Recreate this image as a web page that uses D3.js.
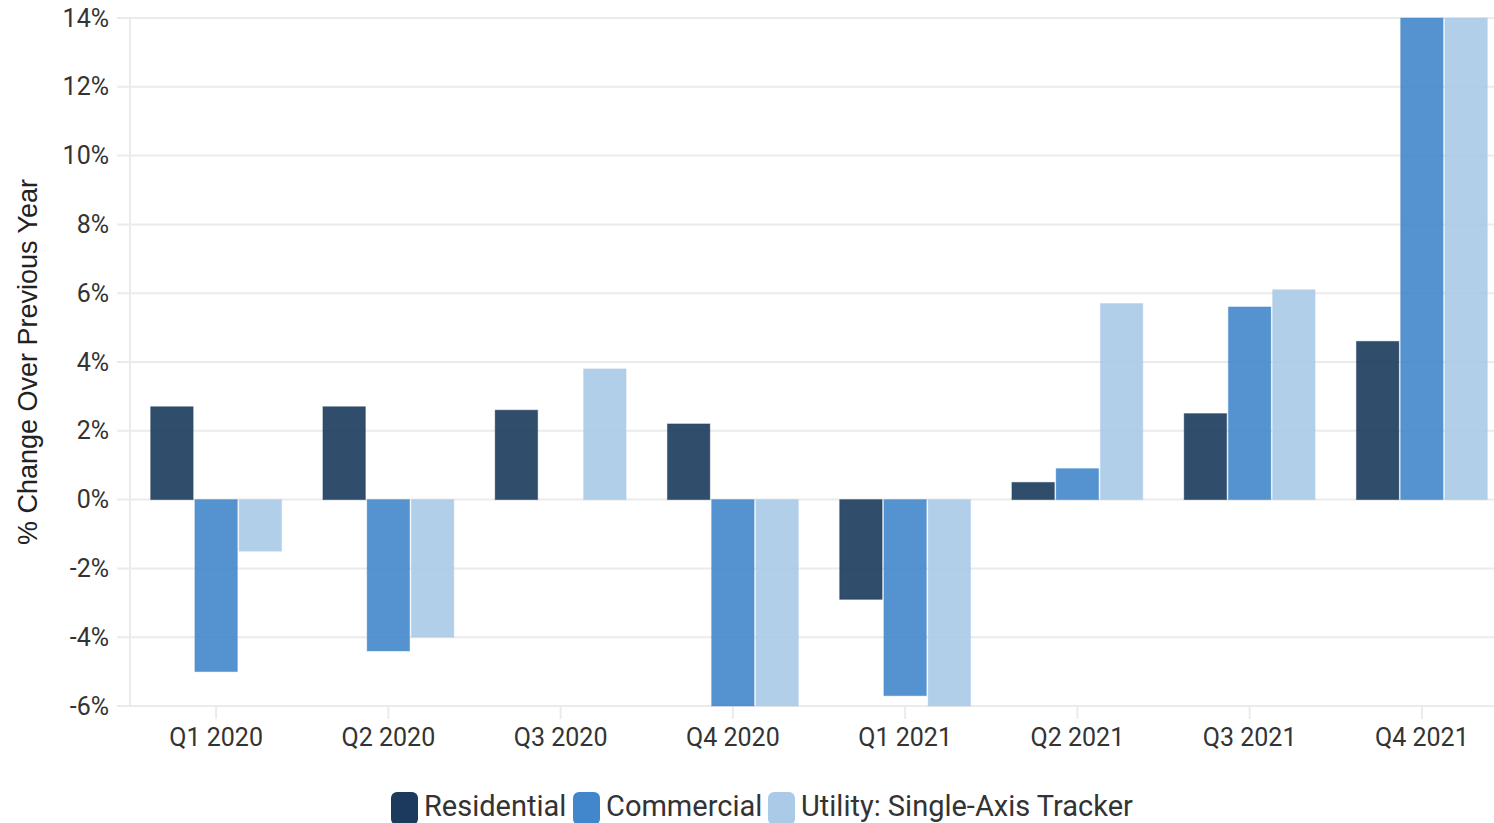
<!DOCTYPE html>
<html>
<head>
<meta charset="utf-8">
<script src="https://cdn.jsdelivr.net/npm/d3@7"></script>
<style>
  html, body { margin: 0; padding: 0; background: #fff; }
  svg { display: block; }
</style>
</head>
<body>
<svg id="chart" width="1494" height="823"></svg>
<script>
const categories = ["Q1 2020", "Q2 2020", "Q3 2020", "Q4 2020", "Q1 2021", "Q2 2021", "Q3 2021", "Q4 2021"];
const seriesNames = ["Residential", "Commercial", "Utility: Single-Axis Tracker"];
const residential = [2.7, 2.7, 2.6, 2.2, -2.9, 0.5, 2.5, 4.6];
const commercial = [-5.0, -4.4, 0, -6.0, -5.7, 0.9, 5.6, 14.0];
const utility = [-1.5, -4.0, 3.8, -6.0, -6.0, 5.7, 6.1, 14.0];
const yTicks = [-6, -4, -2, 0, 2, 4, 6, 8, 10, 12, 14];
const colors = ["#1b3a5c", "#4287cb", "#aacae8"];

const seriesValues = [residential, commercial, utility];

const svg = d3.select("#chart");
const plot = { left: 130, right: 1508, top: 18, bottom: 706 };

const x0 = d3.scaleBand().domain(categories).range([plot.left, plot.right]).paddingInner(0.24).paddingOuter(0.12);
const x1 = d3.scaleBand().domain(seriesNames).range([0, x0.bandwidth()]).padding(0.04).paddingOuter(0);
const y = d3.scaleLinear().domain([-6, 14]).range([plot.bottom, plot.top]);

// clip
svg.append("defs").append("clipPath").attr("id", "plotclip")
  .append("rect").attr("x", plot.left).attr("y", plot.top - 1).attr("width", plot.right - plot.left).attr("height", plot.bottom - plot.top + 2);

// gridlines
svg.append("g").selectAll("line").data(yTicks).join("line")
  .attr("x1", 117).attr("x2", 1494)
  .attr("y1", d => y(d)).attr("y2", d => y(d))
  .attr("stroke", "#ebebeb").attr("stroke-width", 2);

// y axis line
svg.append("line").attr("x1", plot.left).attr("x2", plot.left)
  .attr("y1", plot.top).attr("y2", plot.bottom + 1)
  .attr("stroke", "#ebebeb").attr("stroke-width", 2);

// y tick labels
svg.append("g").selectAll("text").data(yTicks).join("text")
  .attr("x", 109).attr("y", d => y(d))
  .attr("text-anchor", "end").attr("dominant-baseline", "central")
  .attr("font-family", "Roboto, sans-serif").attr("font-size", 25)
  .attr("fill", "#333")
  .text(d => d + "%");

// x ticks
const xt = svg.append("g");
xt.selectAll("line").data(categories).join("line")
  .attr("x1", d => x0(d) + x0.bandwidth() / 2).attr("x2", d => x0(d) + x0.bandwidth() / 2)
  .attr("y1", plot.bottom).attr("y2", plot.bottom + 13)
  .attr("stroke", "#ebebeb").attr("stroke-width", 2);
xt.selectAll("text").data(categories).join("text")
  .attr("x", d => x0(d) + x0.bandwidth() / 2).attr("y", 746)
  .attr("text-anchor", "middle")
  .attr("font-family", "Roboto, sans-serif").attr("font-size", 25)
  .attr("fill", "#333")
  .text(d => d);

// bars
const rows = categories.map((c, i) => ({ cat: c, vals: seriesNames.map((s, j) => ({ s, j, v: seriesValues[j][i] })) }));
const bars = svg.append("g").attr("clip-path", "url(#plotclip)");
bars.selectAll("g").data(rows).join("g")
  .attr("transform", d => `translate(${x0(d.cat)},0)`)
  .selectAll("rect").data(d => d.vals.filter(v => v.v !== 0)).join("rect")
  .attr("x", d => x1(d.s))
  .attr("width", x1.bandwidth())
  .attr("y", d => y(Math.max(0, d.v)))
  .attr("height", d => Math.abs(y(d.v) - y(0)))
  .attr("fill", d => colors[d.j]).attr("fill-opacity", 0.9)
  .attr("stroke", d => colors[d.j]).attr("stroke-opacity", 0.4).attr("stroke-width", 1);

// y axis title
svg.append("text")
  .attr("transform", "translate(37,362) rotate(-90)")
  .attr("text-anchor", "middle")
  .attr("font-family", "'Liberation Sans', Arial, sans-serif").attr("font-size", 27)
  .attr("fill", "#222")
  .text("% Change Over Previous Year");

// legend
const legend = svg.append("g");
const legendX = [391, 573, 768];
seriesNames.forEach((s, j) => {
  const g = legend.append("g").attr("transform", `translate(${legendX[j]},792)`);
  g.append("rect").attr("width", 27).attr("height", 33).attr("rx", 6).attr("fill", colors[j]);
  g.append("text").attr("x", 33).attr("y", 24)
    .attr("font-family", "Roboto, sans-serif").attr("font-size", 29)
    .attr("fill", "#333")
    .text(s);
});
</script>
</body>
</html>
